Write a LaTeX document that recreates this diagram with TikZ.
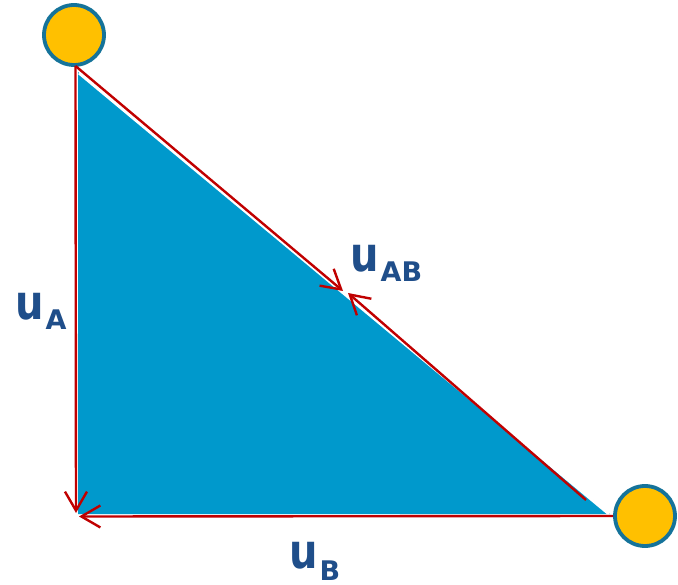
\documentclass[tikz,border=0pt]{standalone}
\usepackage{fontspec}
\setmainfont{Liberation Sans}
\newfontfamily\labfont{DejaVu Sans}
\usetikzlibrary{arrows.meta}
\definecolor{tri}{HTML}{0099CC}
\definecolor{ball}{HTML}{FFC000}
\definecolor{ballrim}{HTML}{15739A}
\definecolor{arr}{HTML}{C00000}
\definecolor{lab}{HTML}{1F4E8A}
\tikzset{
  ballnode/.style={circle,fill=ball,draw=ballrim,line width=3.8pt,minimum size=60pt,inner sep=0pt},
  vec/.style={draw=arr,line width=2.4pt,-{Straight Barb[length=19pt,width=22pt,line width=2.4pt]}},
  lbl/.style={text=lab,font=\labfont\bfseries,anchor=base west,inner sep=0pt},
}
\newcommand{\ulab}[2]{\fontsize{40}{40}\selectfont\scalebox{1}[1.2]{u}\hspace{2pt}\raisebox{#2}{\fontsize{27}{27}\selectfont #1}}
\begin{document}
\begin{tikzpicture}[x=1pt,y=-1pt]
\useasboundingbox[fill=white] (0,0) rectangle (678,585);
% triangle
\fill[tri] (78,72) -- (78,514) -- (610,514) -- cycle;
\draw[white,line width=3pt] (79,73) -- (609,514);
% balls
\node[ballnode] (A) at (74,35) {};
\node[ballnode] (B) at (645,516) {};
% arrow coordinates
\coordinate (vtip) at (76,513);
\coordinate (vstart) at (75.5,66);
\coordinate (htip) at (79,516.5);
\coordinate (dtipa) at (343,291);
\coordinate (dstartb) at (586,500);
\coordinate (dtipb) at (348,293);
% vectors
\draw[vec] (vstart) -- (vtip);
\draw[vec] (B.west) -- (htip);
\draw[vec] (vstart) -- (dtipa);
\draw[vec] (dstartb) -- (dtipb);
% labels
\node[lbl] (uA) at (15,320) {\ulab{A}{-10pt}};
\node[lbl] (uAB) at (350,272) {\ulab{AB}{-10pt}};
\node[lbl] (uB) at (289,568) {\ulab{B}{-12pt}};
\end{tikzpicture}
\end{document}
